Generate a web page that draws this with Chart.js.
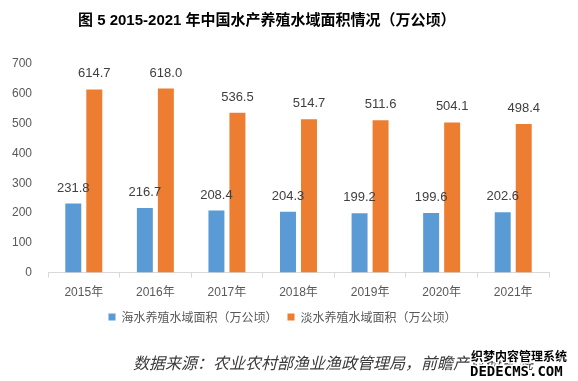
<!DOCTYPE html>
<html>
<head>
<meta charset="utf-8">
<script src="https://cdn.jsdelivr.net/npm/chart.js@4"></script>
<style>
  html, body { margin: 0; padding: 0; background: #fff; }
  #wrap { width: 578px; height: 381px; }
</style>
</head>
<body>
<div id="wrap"><canvas id="chart" width="578" height="381"></canvas></div>
<script>
// Chart data
const years = ['2015年', '2016年', '2017年', '2018年', '2019年', '2020年', '2021年'];
const seaArea = [231.8, 216.7, 208.4, 204.3, 199.2, 199.6, 202.6];
const freshArea = [614.7, 618.0, 536.5, 514.7, 511.6, 504.1, 498.4];
const seriesNames = ['海水养殖水域面积（万公顷）', '淡水养殖水域面积（万公顷）'];
const yTicks = [0, 100, 200, 300, 400, 500, 600, 700];

const FONT = '"Liberation Sans", Arial, "Noto Sans CJK SC", sans-serif';
const CJK = '"Noto Sans CJK SC", "Liberation Sans", sans-serif';

// Title, source note, value labels, legend nudge
const extras = {
    id: 'extras',
    afterLayout(chart) {
        const lg = chart.legend;
        if (lg) {
            lg.left += 8; lg.right += 8;
            lg.top -= 7; lg.bottom -= 7;
        }
    },
    afterDatasetsDraw(chart) {
        const ctx = chart.ctx;
        ctx.save();
        ctx.fillStyle = '#404040';
        ctx.font = '13px ' + FONT;
        ctx.textAlign = 'center';
        ctx.textBaseline = 'bottom';
        chart.data.datasets.forEach((ds, i) => {
            chart.getDatasetMeta(i).data.forEach((bar, j) => {
                ctx.fillText(ds.data[j].toFixed(1), bar.x, bar.y - 9);
            });
        });
        ctx.restore();
    },
    afterDraw(chart) {
        const ctx = chart.ctx;
        ctx.save();
        // title
        ctx.fillStyle = '#000';
        ctx.font = 'bold 15px ' + FONT;
        ctx.textAlign = 'left';
        ctx.textBaseline = 'middle';
        ctx.fillText('图 5 2015-2021 年中国水产养殖水域面积情况（万公顷）', 78, 21);

        // source
        ctx.font = 'italic 16px ' + CJK;
        ctx.fillStyle = '#3a3a3a';
        ctx.fillText('数据来源：农业农村部渔业渔政管理局，前瞻产业研究院', 133, 363);

        // watermark
        ctx.lineWidth = 3;
        ctx.strokeStyle = '#fff';
        ctx.fillStyle = '#000';
        ctx.font = 'bold 12px ' + CJK;
        ctx.strokeText('织梦内容管理系统', 471, 356);
        ctx.fillText('织梦内容管理系统', 471, 356);
        ctx.font = 'bold 14px "DejaVu Sans Mono", monospace';
        ctx.strokeText('DEDECMS.COM', 470, 372);
        ctx.fillText('DEDECMS.COM', 470, 372);
        ctx.restore();
    }
};

new Chart(document.getElementById('chart'), {
    type: 'bar',
    data: {
        labels: years,
        datasets: [
            {
                label: seriesNames[0],
                data: seaArea,
                backgroundColor: '#5B9BD5'
            },
            {
                label: seriesNames[1],
                data: freshArea,
                backgroundColor: '#ED7D31'
            }
        ]
    },
    options: {
        responsive: false,
        animation: false,
        categoryPercentage: 0.587,
        barPercentage: 0.76,
        layout: {
            padding: { top: 64, right: 29, bottom: 41, left: 0 }
        },
        plugins: {
            title: { display: false },
            tooltip: { enabled: false },
            legend: {
                position: 'bottom',
                labels: {
                    boxWidth: 7,
                    boxHeight: 7,
                    padding: 10,
                    color: '#595959',
                    font: { family: CJK, size: 12 }
                }
            }
        },
        scales: {
            x: {
                grid: {
                    offset: true,
                    drawOnChartArea: false,
                    color: '#d9d9d9',
                    tickLength: 5
                },
                border: { color: '#d9d9d9' },
                ticks: {
                    color: '#595959',
                    font: { family: FONT, size: 12 },
                    padding: 8
                }
            },
            y: {
                min: 0,
                max: 700,
                afterBuildTicks(scale) {
                    scale.ticks = yTicks.map(v => ({ value: v }));
                },
                afterFit(scale) {
                    scale.width = 48;
                },
                grid: { display: false },
                border: { display: false },
                ticks: {
                    color: '#595959',
                    font: { family: FONT, size: 12 },
                    padding: 8
                }
            }
        }
    },
    plugins: [extras]
});
</script>
</body>
</html>
